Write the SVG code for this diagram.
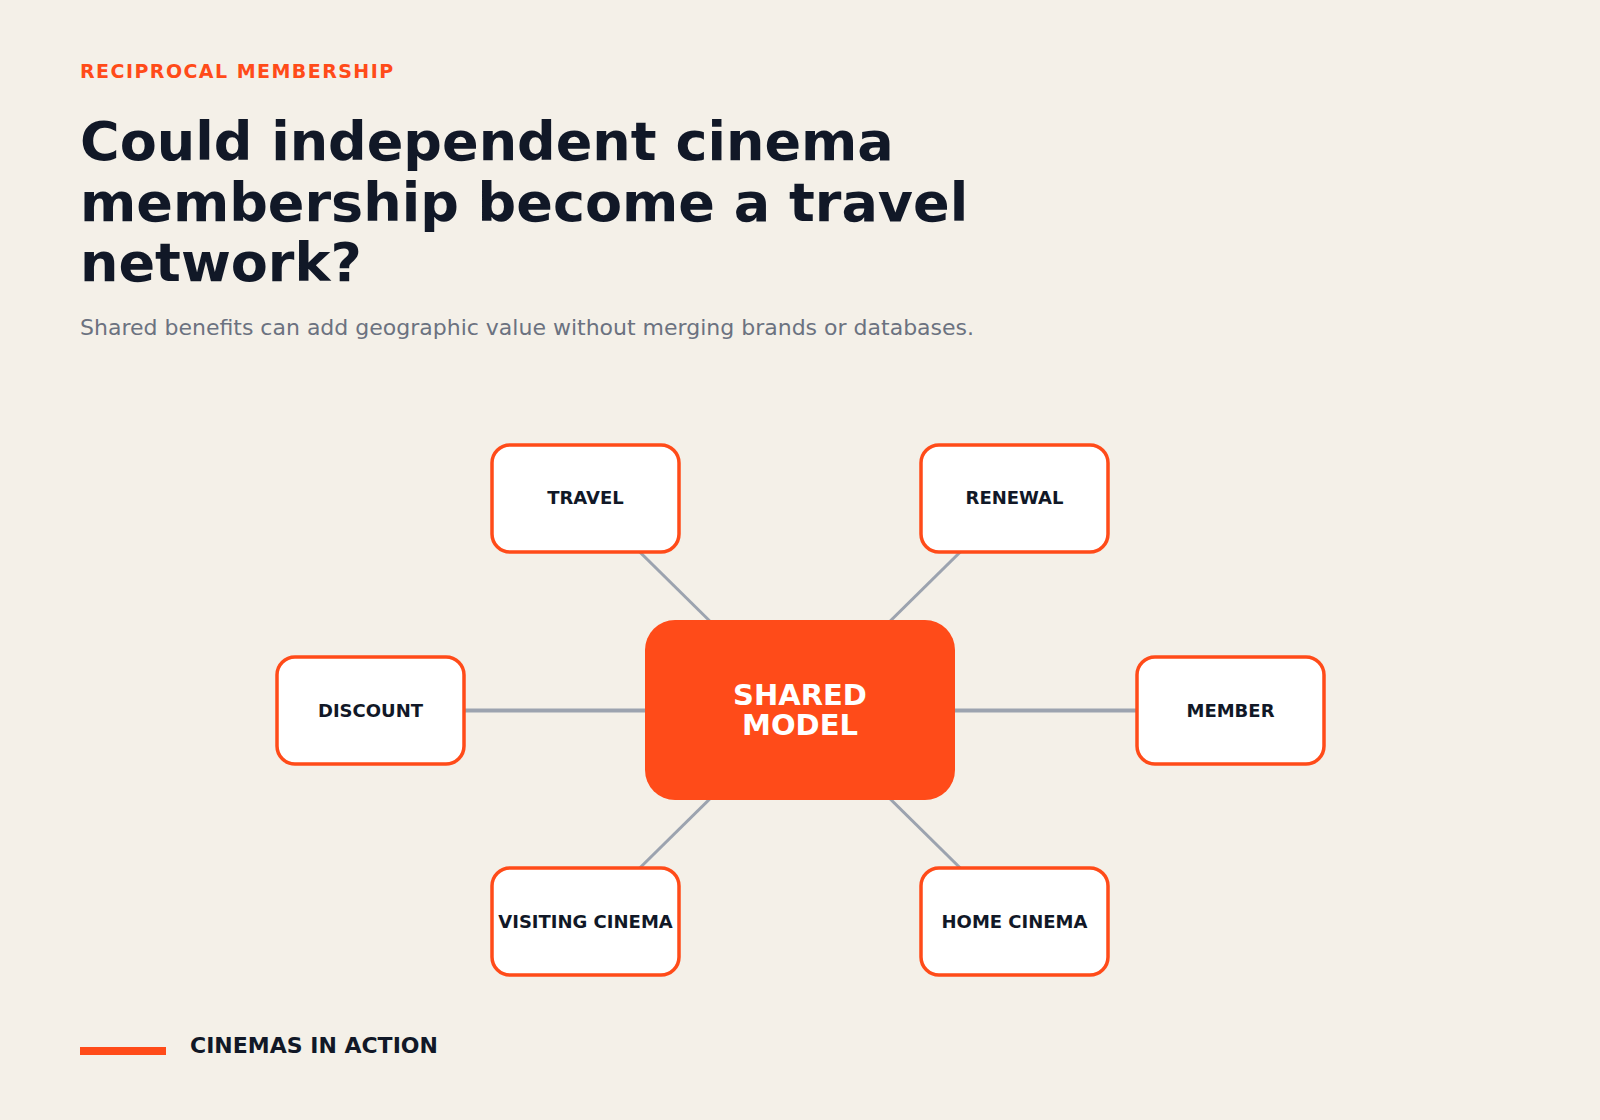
<svg xmlns="http://www.w3.org/2000/svg" width="1600" height="1120" viewBox="0 0 1600 1120">
<style>
.sans{font-family:"DejaVu Sans","Liberation Sans",sans-serif;}
.node rect{fill:#FFFFFF;stroke:#FF4B19;stroke-width:3.5;}
.lbl{font-family:"DejaVu Sans","Liberation Sans",sans-serif;font-weight:bold;font-size:18px;fill:#111827;text-anchor:middle;}
.conn line{stroke:#9CA3AF;stroke-width:3;stroke-linecap:butt;}
.conn line.h{stroke-width:4;}
</style>
<rect x="0" y="0" width="1600" height="1120" fill="#F4F0E8"/>
<g id="header">
<text class="sans" x="80" y="77.5" font-size="19" font-weight="bold" letter-spacing="1.45" fill="#FF4B19">RECIPROCAL MEMBERSHIP</text>
<text class="sans" font-size="54" font-weight="bold" fill="#111827"><tspan x="80" y="159.5">Could independent cinema</tspan><tspan x="80" y="220.5">membership become a travel</tspan><tspan x="80" y="281">network?</tspan></text>
<text class="sans" x="80" y="335" font-size="22" fill="#6B7280">Shared benefits can add geographic value without merging brands or databases.</text>
</g>
<g id="connectors" class="conn">
<line x1="585.5" y1="498.5" x2="800" y2="710"/>
<line x1="1014.5" y1="498.5" x2="800" y2="710"/>
<line class="h" x1="370.5" y1="710.5" x2="800" y2="710.5"/>
<line class="h" x1="1230" y1="710.5" x2="800" y2="710.5"/>
<line x1="585.5" y1="921.5" x2="800" y2="710"/>
<line x1="1014.5" y1="921.5" x2="800" y2="710"/>
</g>
<g id="node-shared-model">
<rect x="645" y="620" width="310" height="180" rx="30" fill="#FF4B19"/>
<text class="sans" font-size="29" font-weight="bold" fill="#FFFFFF" text-anchor="middle"><tspan x="800" y="704.5">SHARED</tspan><tspan x="800" y="735">MODEL</tspan></text>
</g>
<g id="node-travel" class="node">
<rect x="492" y="445" width="187" height="107" rx="18"/>
<text class="lbl" x="585.5" y="504">TRAVEL</text>
</g>
<g id="node-renewal" class="node">
<rect x="921" y="445" width="187" height="107" rx="18"/>
<text class="lbl" x="1014.5" y="504">RENEWAL</text>
</g>
<g id="node-discount" class="node">
<rect x="277" y="657" width="187" height="107" rx="18"/>
<text class="lbl" x="370.5" y="716.5">DISCOUNT</text>
</g>
<g id="node-member" class="node">
<rect x="1137" y="657" width="187" height="107" rx="18"/>
<text class="lbl" x="1230.5" y="716.5">MEMBER</text>
</g>
<g id="node-visiting-cinema" class="node">
<rect x="492" y="868" width="187" height="107" rx="18"/>
<text class="lbl" x="585.5" y="927.5">VISITING CINEMA</text>
</g>
<g id="node-home-cinema" class="node">
<rect x="921" y="868" width="187" height="107" rx="18"/>
<text class="lbl" x="1014.5" y="927.5">HOME CINEMA</text>
</g>
<g id="footer">
<rect x="80" y="1047" width="86" height="8" fill="#FF4B19"/>
<text class="sans" x="190" y="1053.3" font-size="22" font-weight="bold" fill="#111827">CINEMAS IN ACTION</text>
</g>
</svg>
